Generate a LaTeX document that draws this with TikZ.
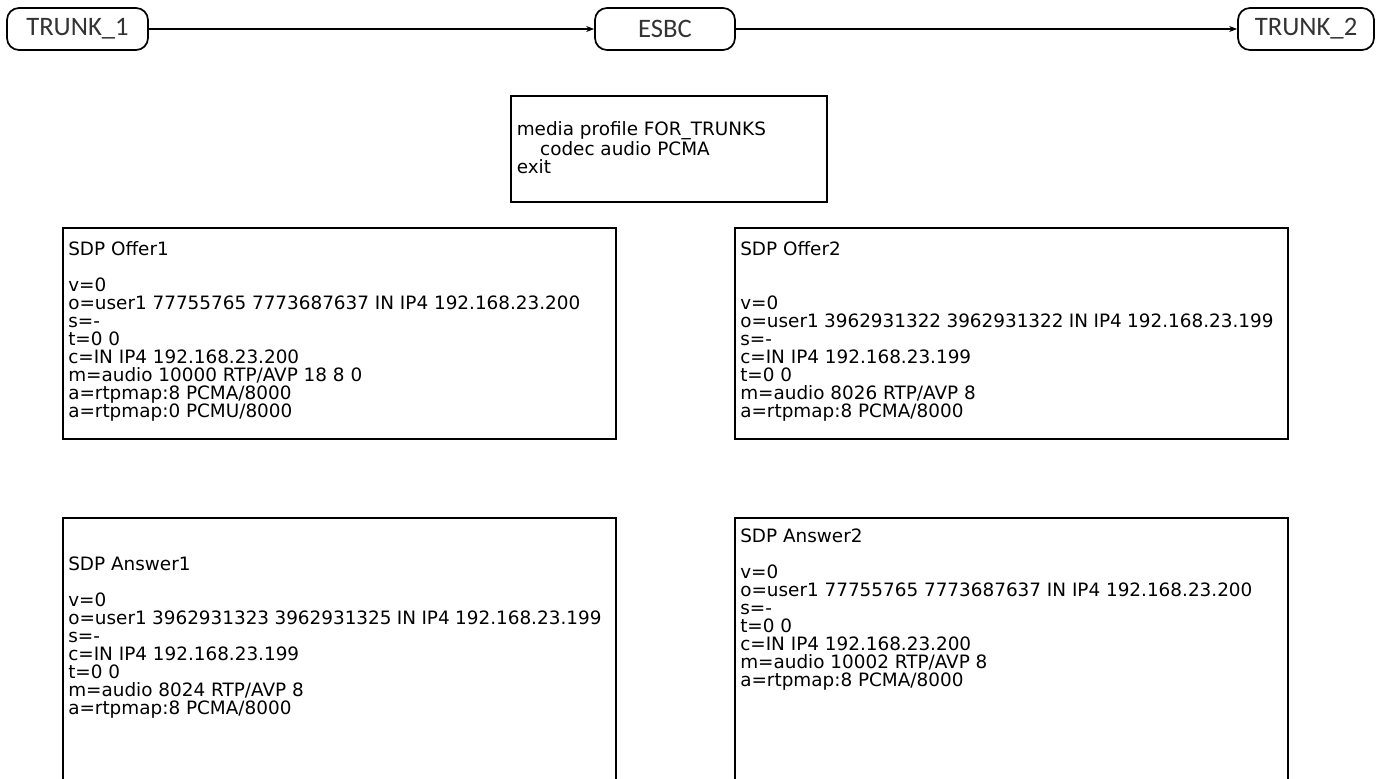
\documentclass[tikz,border=0pt]{standalone}
\usepackage{fontspec}
\newfontfamily\dejavu{DejaVu Sans}
\newfontfamily\carlito{Carlito}
\usetikzlibrary{arrows.meta}
\begin{document}
\begin{tikzpicture}[x=0.75pt,y=-0.75pt,
  trunk/.style={draw, line width=1.3pt, rounded corners=9pt, minimum height=31.5pt, inner sep=0pt, font=\carlito\fontsize{20}{24}\selectfont, text=black!80},
  link/.style={line width=0.9pt, -{Stealth[length=6pt,width=4.5pt]}},
  cbox/.style={draw, line width=1.5pt, anchor=north west, inner sep=0pt},
  ctext/.style={anchor=base west, inner sep=0pt, font=\dejavu\fontsize{13.8}{13.5}\selectfont}
]
\useasboundingbox (0,0) rectangle (1381,778);
\clip (0,0) rectangle (1381,778);
% top row
\node[trunk, minimum width=105.75pt] (t1) at (77.5,29) {TRUNK\_1};
\node[trunk, minimum width=105pt] (esbc) at (665,29) {ESBC};
\node[trunk, minimum width=102pt] (t2) at (1306,29) {TRUNK\_2};
\draw[link] (t1) -- (esbc);
\draw[link] (esbc) -- (t2);
% media profile
\node[cbox, minimum width=237pt, minimum height=79.5pt] (mpb) at (510,95) {};
\node[ctext] (mpt) at (516.5,135.5) {\begin{minipage}[t]{220pt}media profile FOR\_TRUNKS\\ \hspace*{1.27em}codec audio PCMA\\ exit\end{minipage}};
% offers
\node[cbox, minimum width=414.75pt, minimum height=158.25pt] (o1b) at (62,227) {};
\node[ctext] (o1t) at (68,255) {\begin{minipage}[t]{400pt}SDP Offer1\\ \mbox{}\\ v=0\\ o=user1 77755765 7773687637 IN IP4 192.168.23.200\\ s=-\\ t=0 0\\ c=IN IP4 192.168.23.200\\ m=audio 10000 RTP/AVP 18 8 0\\ a=rtpmap:8 PCMA/8000\\ a=rtpmap:0 PCMU/8000\end{minipage}};
\node[cbox, minimum width=414.75pt, minimum height=158.25pt] (o2b) at (734,227) {};
\node[ctext] (o2t) at (740,255) {\begin{minipage}[t]{400pt}SDP Offer2\\ \mbox{}\\ \mbox{}\\ v=0\\ o=user1 3962931322 3962931322 IN IP4 192.168.23.199\\ s=-\\ c=IN IP4 192.168.23.199\\ t=0 0\\ m=audio 8026 RTP/AVP 8\\ a=rtpmap:8 PCMA/8000\end{minipage}};
% answers
\node[cbox, minimum width=414.75pt, minimum height=217.5pt] (a1b) at (62,517) {};
\node[ctext] (a1t) at (68,570) {\begin{minipage}[t]{400pt}SDP Answer1\\ \mbox{}\\ v=0\\ o=user1 3962931323 3962931325 IN IP4 192.168.23.199\\ s=-\\ c=IN IP4 192.168.23.199\\ t=0 0\\ m=audio 8024 RTP/AVP 8\\ a=rtpmap:8 PCMA/8000\end{minipage}};
\node[cbox, minimum width=414.75pt, minimum height=217.5pt] (a2b) at (734,517) {};
\node[ctext] (a2t) at (740,542) {\begin{minipage}[t]{400pt}SDP Answer2\\ \mbox{}\\ v=0\\ o=user1 77755765 7773687637 IN IP4 192.168.23.200\\ s=-\\ t=0 0\\ c=IN IP4 192.168.23.200\\ m=audio 10002 RTP/AVP 8\\ a=rtpmap:8 PCMA/8000\end{minipage}};
\end{tikzpicture}
\end{document}
